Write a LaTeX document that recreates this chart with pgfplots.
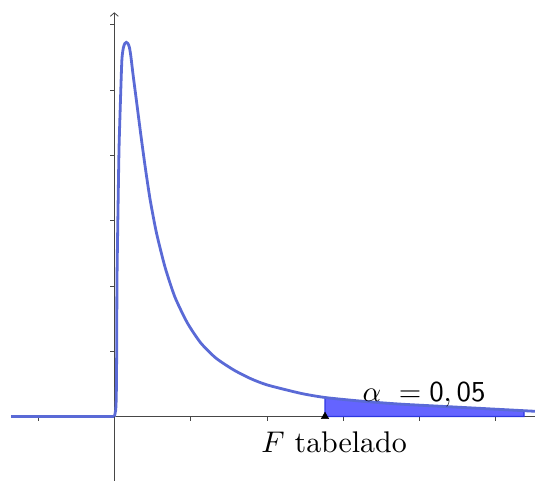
\documentclass[border=0pt]{standalone}
\usepackage{pgfplots}
\usepackage{pgfplotstable}
\usetikzlibrary{arrows.meta}
\pgfplotsset{compat=1.18}

\definecolor{curve}{RGB}{90,106,214}
\definecolor{shade}{RGB}{100,100,255}
\definecolor{shadeedge}{RGB}{45,55,225}
\definecolor{axisgray}{RGB}{70,70,70}

% density of the F distribution (x, f(x))
\pgfplotstableread{
x       y
0       0
0.0183  0.0995
0.0262  0.329
0.0315  1.018
0.0354  2.090
0.0485  3.162
0.0616  4.081
0.0747  4.617
0.0917  5.230
0.1009  5.490
0.1180  5.643
0.1376  5.712
0.1573  5.730
0.1769  5.715
0.1966  5.659
0.2149  5.536
0.2464  5.230
0.2890  4.847
0.3447  4.341
0.4050  3.821
0.4705  3.315
0.5531  2.810
0.6645  2.289
0.7942  1.830
0.9581  1.432
1.1337  1.126
1.3303  0.896
1.5662  0.712
1.7890  0.579
2.0079  0.482
2.4430  0.355
2.7615  0.291
3.2202  0.237
3.7314  0.191
4.5308  0.141
5.3696  0.0888
5.5140  0.0796
}\fdensity

% upper tail beyond the critical value
\pgfplotstableread{
x       y
2.7615  0
2.7615  0.291
3.2202  0.237
3.7314  0.191
4.5308  0.141
5.3696  0.0888
5.3696  0
}\tailarea

\begin{document}
\begin{tikzpicture}
\begin{axis}[
  anchor=origin, at={(0,0)},
  x=76.3bp, y=65.3bp,
  xmin=-1.354, xmax=5.514,
  ymin=-0.99, ymax=6.19,
  enlargelimits=false,
  clip=false,
  axis lines=middle,
  axis line style={axisgray, line width=0.8bp},
  x axis line style={-},
  y axis line style={-{Straight Barb[length=3.5bp,width=8bp]}},
  xtick={-1,1,2,3,4,5},
  ytick={1,2,3,4,5,6},
  xticklabels={}, yticklabels={},
  tick align=outside,
  major tick length=4bp,
  tick style={axisgray, line width=0.7bp},
]
\addplot[fill=shade, draw=shadeedge, line width=1.2bp] table {\tailarea} -- cycle;
\addplot[curve, line width=2.8bp] coordinates {(-1.354,0) (0,0)};
\addplot[curve, line width=2.8bp, smooth, tension=0.4] table {\fdensity};
\addplot[only marks, mark=triangle*, mark size=4.3bp, black] coordinates {(2.7615,0)};
\node[anchor=base, scale=3.0] at (axis cs:2.88,-0.544) {$F$ tabelado};
\node[anchor=base west, inner sep=0pt, scale=2.9] at (axis cs:3.246,0.237) {$\alpha\ = \mathsf{0,05}$};
\end{axis}
\pgfresetboundingbox
\useasboundingbox (-114.3bp,-64.5bp) rectangle (420.7bp,416.5bp);
\end{tikzpicture}
\end{document}
